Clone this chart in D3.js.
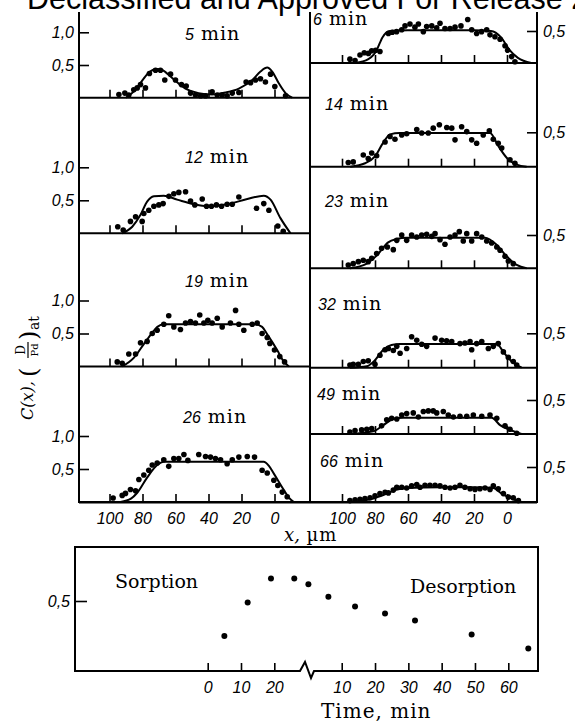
<!DOCTYPE html>
<html>
<head>
<meta charset="utf-8">
<script src="https://cdn.jsdelivr.net/npm/d3@7"></script>
<style>
body { margin: 0; background: #fff; }
svg { display: block; }
.num { font-family: "Liberation Sans", Arial, sans-serif; font-style: italic; font-size: 16px; }
.ser { font-family: "DejaVu Serif", serif; }
.tick line { stroke: #000; stroke-width: 1.6; }
</style>
</head>
<body>
<svg id="fig" width="575" height="726"></svg>
<script>
// profiles: [x in um, C]
const dots05 = [[94.3,0.05],[90.7,0.07],[88.3,0.04],[85.3,0.12],[83.2,0.15],[81.2,0.20],[78.2,0.15],[75.8,0.37],[72.1,0.42],[69.1,0.42],[66.5,0.27],[63.0,0.36],[60.0,0.27],[56.4,0.20],[53.5,0.18],[50.9,0.07],[47.9,0.04],[44.8,0.03],[41.8,0.03],[37.8,0.09],[34.7,0.04],[31.7,0.04],[28.7,0.03],[25.6,0.07],[21.6,0.08],[17.2,0.24],[14.5,0.23],[11.5,0.27],[8.5,0.29],[5.5,0.24],[2.4,0.36],[-0.2,0.17],[-6.7,0.03]];
const fit05 = [[90,0],[84.3,0.12],[79.3,0.29],[76.3,0.38],[71.3,0.44],[67.8,0.42],[62,0.3],[54,0.14],[46,0.07],[37.8,0.05],[29.7,0.08],[21.6,0.14],[13.5,0.27],[8.5,0.40],[4.4,0.46],[1.4,0.40],[-2.6,0.22],[-6.7,0.07],[-10.7,0]];

const dots12 = [[95.0,0.10],[91.7,0.05],[87.3,0.18],[84.2,0.25],[80.2,0.18],[79.2,0.30],[76.2,0.35],[73.1,0.41],[70.1,0.43],[67.5,0.45],[64.0,0.56],[61.0,0.60],[58.0,0.62],[53.9,0.63],[50.9,0.49],[48.3,0.43],[43.8,0.52],[41.2,0.41],[38.2,0.41],[35.2,0.43],[32.1,0.41],[28.7,0.44],[25.6,0.44],[21.6,0.55],[10.9,0.38],[6.5,0.45],[3.4,0.35],[-2.0,0.11],[-5.3,0.03]];
const fit12 = [[92.3,0],[86.2,0.10],[81.2,0.28],[77.2,0.48],[73.1,0.56],[67.1,0.57],[59,0.51],[48.9,0.44],[40.8,0.41],[28.7,0.44],[16.5,0.52],[6.5,0.57],[2.4,0.51],[-3.6,0.23],[-9.7,0]];

const dots19 = [[95.3,0.07],[92.3,0.05],[88.3,0.19],[84.2,0.19],[81.2,0.36],[77.2,0.38],[74.1,0.50],[71.1,0.55],[67.1,0.64],[64.1,0.77],[61.0,0.60],[57.0,0.56],[53.9,0.66],[50.9,0.68],[47.9,0.66],[45.3,0.78],[42.8,0.66],[40.4,0.70],[37.8,0.66],[34.7,0.73],[31.7,0.60],[26.7,0.66],[23.6,0.85],[21.6,0.64],[18.6,0.55],[13.5,0.64],[10.5,0.66],[7.5,0.50],[4.4,0.44],[2.8,0.35],[0,0.25],[-3.2,0.15],[-6.1,0.07]];
const fit19 = [[92.3,0],[85.3,0.13],[79.2,0.34],[74.1,0.51],[71,0.6],[67,0.64],[50,0.64],[30,0.64],[12,0.64],[7.5,0.6],[4.5,0.49],[-1.6,0.25],[-5.5,0.08],[-8.7,0]];

const dots26 = [[97.8,0.06],[92.3,0.10],[90.3,0.13],[87.3,0.19],[84.2,0.17],[82.2,0.34],[79.2,0.41],[76.2,0.48],[74.1,0.56],[71.1,0.59],[67.1,0.64],[64.1,0.54],[61.0,0.66],[58.0,0.66],[54.9,0.72],[52.5,0.63],[45.9,0.72],[41.8,0.69],[38.8,0.68],[35.8,0.66],[32.7,0.64],[28.7,0.58],[25.6,0.64],[21.6,0.68],[16.5,0.69],[12.1,0.68],[7.5,0.48],[4.4,0.44],[0.4,0.33],[-2.0,0.25],[-4.7,0.15],[-7.7,0.08]];
const fit26 = [[93.3,0],[87,0.05],[83.2,0.14],[77.2,0.37],[71.1,0.56],[67,0.61],[50,0.61],[30,0.61],[10,0.61],[6.5,0.61],[3.5,0.55],[0.4,0.43],[-5.7,0.18],[-9,0.06],[-11.7,0]];

const dots06 = [[95.2,0.06],[92.1,0.04],[89.1,0.125],[86.5,0.16],[84.0,0.15],[82.0,0.19],[79.6,0.20],[77.0,0.18],[71.9,0.46],[69.5,0.48],[66.9,0.49],[63.8,0.52],[61.8,0.58],[58.8,0.61],[55.8,0.56],[53.7,0.61],[50.7,0.49],[48.7,0.57],[45.6,0.58],[42.6,0.55],[40.6,0.62],[37.6,0.54],[34.5,0.54],[31.5,0.56],[27.9,0.58],[23.8,0.68],[21.4,0.52],[18.4,0.46],[15.4,0.49],[12.3,0.52],[10.3,0.44],[7.3,0.41],[4.2,0.37],[1.2,0.27],[-0.4,0.20],[-2.8,0.10],[-4.8,0.02]];
const fit06 = [[92,0],[84,0.06],[79,0.2],[75.5,0.4],[71,0.5],[60,0.51],[40,0.51],[20,0.51],[9.7,0.5],[3.6,0.4],[-1.6,0.2],[-6.6,0.08],[-14.7,0]];

const dots14 = [[96.2,0.06],[93.2,0.07],[87.1,0.17],[84.1,0.12],[82.0,0.20],[79.0,0.16],[73.9,0.36],[70.9,0.44],[67.9,0.40],[63.8,0.46],[60.8,0.48],[54.7,0.54],[51.7,0.49],[47.7,0.49],[44.7,0.56],[41.0,0.61],[36.5,0.57],[33.5,0.56],[31.5,0.39],[27.5,0.58],[24.4,0.51],[21.4,0.39],[18.4,0.34],[14.4,0.46],[10.7,0.52],[8.3,0.40],[5.3,0.34],[3.2,0.27],[-1.8,0.10],[-4.8,0.05]];
const fit14 = [[95,0],[86,0.05],[80,0.15],[75,0.35],[70.9,0.47],[65,0.49],[40,0.49],[20,0.49],[10.3,0.49],[5.3,0.30],[0.2,0.13],[-5.9,0.03],[-11.9,0]];

const dots23 = [[96.2,0.05],[93.2,0.07],[90.1,0.10],[87.1,0.12],[84.1,0.10],[82.0,0.15],[79.0,0.22],[76.0,0.30],[72.5,0.32],[68.9,0.28],[66.8,0.42],[63.8,0.50],[60.8,0.42],[57.8,0.50],[54.7,0.47],[51.7,0.50],[48.7,0.51],[45.6,0.48],[43.6,0.52],[40.6,0.43],[37.6,0.36],[34.5,0.47],[31.5,0.50],[28.9,0.55],[26.5,0.41],[24.4,0.52],[21.4,0.41],[18.4,0.52],[15.3,0.47],[12.3,0.41],[9.3,0.38],[6.2,0.32],[4.2,0.27],[1.2,0.18],[-0.8,0.11],[-3.8,0.07]];
const fit23 = [[95.2,0],[85,0.07],[79,0.19],[72,0.39],[66.9,0.44],[60.8,0.46],[40,0.46],[20,0.46],[13.3,0.46],[6.2,0.35],[0.2,0.18],[-5.9,0.05],[-11.9,0]];

const dots32 = [[95.2,0.04],[93.2,0.05],[90.1,0.05],[87.1,0.09],[84.1,0.10],[80.0,0.05],[77.0,0.18],[73.9,0.26],[71.9,0.28],[68.9,0.25],[66.8,0.31],[64.8,0.21],[60.8,0.28],[57.8,0.45],[54.7,0.40],[51.7,0.34],[48.7,0.31],[43.6,0.43],[39.6,0.40],[36.6,0.39],[33.5,0.38],[28.5,0.35],[25.5,0.36],[22.4,0.38],[21.4,0.26],[18.4,0.35],[15.3,0.38],[11.3,0.28],[8.3,0.31],[5.3,0.35],[2.2,0.23],[-0.8,0.15],[-3.8,0.09],[-5.9,0.04]];
const fit32 = [[95.2,0],[85,0.02],[80,0.11],[75,0.26],[70,0.33],[64.8,0.345],[40,0.345],[20,0.345],[6.2,0.345],[2.2,0.23],[-2.8,0.09],[-8.9,0]];

const dots49 = [[95.2,0.03],[92.1,0.05],[88.1,0.06],[85.0,0.07],[82.0,0.08],[76.0,0.12],[72.9,0.21],[69.9,0.23],[66.8,0.22],[63.8,0.28],[60.8,0.30],[56.8,0.31],[53.7,0.25],[50.7,0.33],[47.7,0.34],[44.7,0.34],[42.6,0.31],[38.6,0.33],[35.6,0.28],[32.5,0.25],[28.5,0.26],[24.4,0.26],[20.4,0.28],[15.3,0.26],[10.3,0.28],[6.2,0.23],[1.2,0.12],[-1.8,0.07],[-5.9,0.01]];
const fit49 = [[95.2,0],[81,0.04],[75,0.13],[69,0.22],[62.8,0.24],[40,0.24],[20,0.24],[9.3,0.24],[4.2,0.13],[-1.8,0.06],[-8.9,0]];

const dots66 = [[95.2,0.02],[92.1,0.03],[89.1,0.04],[86.1,0.05],[83.0,0.06],[80.0,0.09],[77.0,0.12],[73.9,0.14],[71.9,0.13],[68.9,0.17],[66.8,0.21],[63.8,0.21],[60.8,0.20],[57.8,0.23],[54.7,0.25],[52.7,0.21],[49.7,0.24],[46.7,0.24],[43.6,0.24],[40.6,0.23],[37.6,0.21],[34.5,0.20],[31.5,0.21],[28.5,0.24],[25.5,0.21],[22.4,0.19],[19.4,0.18],[16.4,0.19],[13.3,0.20],[10.3,0.18],[8.3,0.23],[5.3,0.19],[2.2,0.12],[-0.8,0.07],[-3.8,0.06],[-6.9,0.02]];
const fit66 = [[95.2,0],[81,0.05],[73.9,0.11],[67.9,0.17],[60.8,0.2],[40,0.21],[20,0.21],[8.3,0.2],[3.2,0.12],[-2.8,0.05],[-7.9,0]];

// mean concentration vs time
const sorpTime = [5, 12, 19, 26];
const sorpC = [0.25, 0.49, 0.66, 0.66];
const desTime = [0, 6, 14, 23, 32, 49, 66];
const desC = [0.62, 0.53, 0.46, 0.41, 0.36, 0.26, 0.16];

const xTicks = [100, 80, 60, 40, 20, 0];
const sorpTicks = [0, 10, 20];
const desTicks = [10, 20, 30, 40, 50, 60];

const svg = d3.select("#fig");
const fmt = d => d3.format(".1f")(d).replace(".", ",");

// header of the scan
svg.append("text")
    .attr("x", 27).attr("y", 9)
    .attr("font-family", "Liberation Sans, Arial, sans-serif")
    .attr("font-size", 30.5)
    .text("Declassified and Approved For Release 2");

const xL = d3.scaleLinear().domain([100, 0]).range([109.5, 274.5]);
const xR = d3.scaleLinear().domain([100, 0]).range([342, 507]);

const panels = [
    {t: "5",  dots: dots05, fit: fit05, x: xL, base: 97.7,  half: 65,    lab: [185, 40],  yt: [0.5, 1]},
    {t: "12", dots: dots12, fit: fit12, x: xL, base: 233.3, half: 200.3, lab: [185, 163], yt: [0.5, 1]},
    {t: "19", dots: dots19, fit: fit19, x: xL, base: 366.5, half: 333.5, lab: [185, 287], yt: [0.5, 1]},
    {t: "26", dots: dots26, fit: fit26, x: xL, base: 502,   half: 469,   lab: [183, 423], yt: [0.5, 1], last: true},
    {t: "6",  dots: dots06, fit: fit06, x: xR, base: 63,    half: 31,    lab: [313, 25],  yt: [0.5]},
    {t: "14", dots: dots14, fit: fit14, x: xR, base: 166.7, half: 132.3, lab: [325, 110], yt: [0.5]},
    {t: "23", dots: dots23, fit: fit23, x: xR, base: 268.3, half: 235,   lab: [325, 207], yt: [0.5]},
    {t: "32", dots: dots32, fit: fit32, x: xR, base: 367.7, half: 333.3, lab: [318, 310], yt: [0.5]},
    {t: "49", dots: dots49, fit: fit49, x: xR, base: 434,   half: 400,   lab: [317, 400], yt: [0.5]},
    {t: "66", dots: dots66, fit: fit66, x: xR, base: 502,   half: 467,   lab: [320, 467], yt: [0.5], last: true}
];

const frame = svg.append("g").attr("stroke", "#000").attr("stroke-width", 2).attr("fill", "none");
// vertical frame lines
frame.append("line").attr("x1", 79).attr("x2", 79).attr("y1", 12).attr("y2", 503);
frame.append("line").attr("x1", 310).attr("x2", 310).attr("y1", 12).attr("y2", 503);
frame.append("line").attr("x1", 537).attr("x2", 537).attr("y1", 12).attr("y2", 503);

panels.forEach(p => {
    const y = d3.scaleLinear().domain([0, 0.5]).range([p.base, p.half]);
    const left = p.x === xL;
    const x0 = left ? 79 : 310, x1 = left ? 310 : 537;
    frame.append("line").attr("x1", x0).attr("x2", x1).attr("y1", p.base).attr("y2", p.base);

    // x ticks
    const xa = svg.append("g").attr("transform", "translate(0," + p.base + ")")
        .call(d3.axisBottom(p.x).tickValues(xTicks).tickSize(-8).tickPadding(11)
            .tickFormat(p.last ? d3.format("d") : ""));
    xa.select(".domain").remove();
    xa.selectAll("text").attr("class", "num").attr("font-size", null).attr("font-family", null);

    // y ticks
    const ya = svg.append("g").attr("transform", "translate(" + (left ? 79 : 537) + ",0)")
        .call((left ? d3.axisLeft(y) : d3.axisRight(y)).tickValues(p.yt).tickSize(-10)
            .tickPadding(left ? 5 : 6).tickFormat(fmt));
    ya.select(".domain").remove();
    ya.selectAll("text").attr("class", "num").attr("font-size", null).attr("font-family", null);

    // fitted curve
    svg.append("path")
        .datum(p.fit)
        .attr("fill", "none").attr("stroke", "#000").attr("stroke-width", 2)
        .attr("d", d3.line().x(d => p.x(d[0])).y(d => y(d[1])).curve(d3.curveMonotoneX));

    svg.append("g").selectAll("circle").data(p.dots).join("circle")
        .attr("cx", d => p.x(d[0])).attr("cy", d => y(d[1])).attr("r", 2.8).attr("fill", "#000");

    const lt = svg.append("text").attr("x", p.lab[0]).attr("y", p.lab[1]);
    lt.append("tspan").attr("class", "num").attr("font-size", 17).text(p.t);
    lt.append("tspan").attr("class", "ser").attr("font-size", 19).attr("letter-spacing", 1).text(" min");
});
frame.append("line").attr("x1", 79).attr("x2", 537).attr("y1", 502.5).attr("y2", 502.5);

// x label
const xl = svg.append("text").attr("x", 284).attr("y", 541).attr("class", "ser").attr("font-size", 18);
xl.append("tspan").attr("font-style", "italic").text("x,");
xl.append("tspan").attr("letter-spacing", 1).text(" µm");

// y label, rotated
const yl = svg.append("g").attr("transform", "translate(33,420) rotate(-90)").attr("class", "ser");
yl.append("text").attr("x", 0).attr("y", 0).attr("font-size", 16).attr("font-style", "italic").text("C(x),");
yl.append("text").attr("x", 43).attr("y", 4).attr("font-size", 24).text("(");
yl.append("text").attr("x", 70).attr("y", -8).attr("font-size", 12).attr("text-anchor", "middle").text("D");
yl.append("line").attr("x1", 62).attr("x2", 78).attr("y1", -5).attr("y2", -5).attr("stroke", "#000").attr("stroke-width", 1.2);
yl.append("text").attr("x", 70).attr("y", 5).attr("font-size", 10).attr("text-anchor", "middle").text("Pd");
yl.append("text").attr("x", 80).attr("y", 4).attr("font-size", 24).text(")");
yl.append("text").attr("x", 90).attr("y", 6).attr("font-size", 14).text("at");

// bottom panel: mean concentration vs time
const yB = d3.scaleLinear().domain([0, 0.5]).range([671, 601]);
const tS = d3.scaleLinear().domain([0, 20]).range([207.7, 274.3]);
const tD = d3.scaleLinear().domain([0, 60]).range([308.4, 508.3]);

svg.append("path")
    .attr("fill", "none").attr("stroke", "#000").attr("stroke-width", 2)
    .attr("d", "M75,671 L300,671 L305,662 L311,678 L314,671 L538,671 L538,547 L75,547 Z");

[[tS, sorpTicks], [tD, desTicks]].forEach(([sc, tv]) => {
    const a = svg.append("g").attr("transform", "translate(0,671)")
        .call(d3.axisBottom(sc).tickValues(tv).tickSize(-8).tickPadding(11).tickFormat(d3.format("d")));
    a.select(".domain").remove();
    a.selectAll("text").attr("class", "num").attr("font-size", null).attr("font-family", null);
});
const yba = svg.append("g").attr("transform", "translate(75,0)")
    .call(d3.axisLeft(yB).tickValues([0.5]).tickSize(-12).tickPadding(5).tickFormat(fmt));
yba.select(".domain").remove();
yba.selectAll("text").attr("class", "num").attr("font-size", null).attr("font-family", null);

svg.append("g").selectAll("circle").data(sorpTime).join("circle")
    .attr("cx", d => tS(d)).attr("cy", (d, i) => yB(sorpC[i])).attr("r", 3).attr("fill", "#000");
svg.append("g").selectAll("circle").data(desTime).join("circle")
    .attr("cx", d => tD(d)).attr("cy", (d, i) => yB(desC[i])).attr("r", 3).attr("fill", "#000");

svg.append("text").attr("class", "ser").attr("x", 115).attr("y", 588).attr("font-size", 19).text("Sorption");
svg.append("text").attr("class", "ser").attr("x", 410).attr("y", 593).attr("font-size", 19).text("Desorption");
svg.append("text").attr("class", "ser").attr("x", 321).attr("y", 718).attr("font-size", 20)
    .attr("letter-spacing", 1).text("Time, min");
</script>
</body>
</html>
